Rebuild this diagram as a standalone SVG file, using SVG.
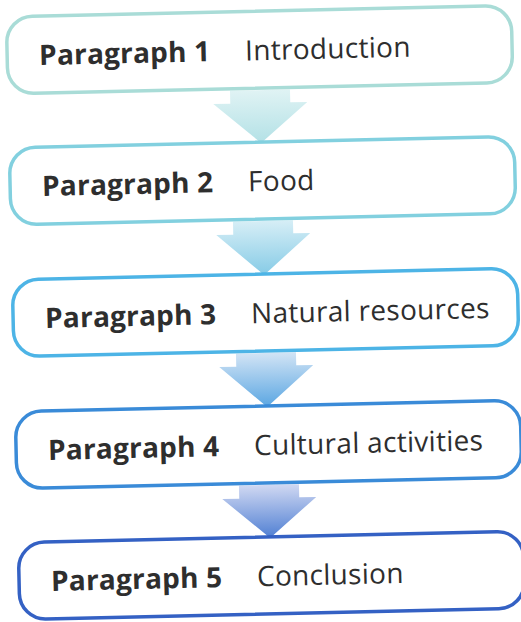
<svg xmlns="http://www.w3.org/2000/svg" width="521" height="622" viewBox="0 0 521 622">
  <defs>
    <linearGradient id="g1" x1="0" y1="0" x2="0" y2="1">
      <stop offset="0" stop-color="#e0f3f4"/>
      <stop offset="1" stop-color="#b3e1e6"/>
    </linearGradient>
    <linearGradient id="g2" x1="0" y1="0" x2="0" y2="1">
      <stop offset="0" stop-color="#d6eef6"/>
      <stop offset="1" stop-color="#86cbe6"/>
    </linearGradient>
    <linearGradient id="g3" x1="0" y1="0" x2="0" y2="1">
      <stop offset="0" stop-color="#d2e4f5"/>
      <stop offset="1" stop-color="#5aa6e2"/>
    </linearGradient>
    <linearGradient id="g4" x1="0" y1="0" x2="0" y2="1">
      <stop offset="0" stop-color="#d0d8f2"/>
      <stop offset="1" stop-color="#4f7fd3"/>
    </linearGradient>
    <style>
      .box { fill: #ffffff; stroke-width: 3.5; }
      .lab { font-family: "Open Sans", "Noto Sans", sans-serif; font-size: 28px; fill: #2e2e2e; letter-spacing: 0.3px; }
      .b { font-weight: 700; letter-spacing: 0.2px; }
    </style>
  </defs>
  <rect width="521" height="622" fill="#ffffff"/>
  <g transform="rotate(-1.3 265 311)">
    <g id="connectors">
      <path d="M235 90 H295 V103 H312 L265 143 L218 103 H235 Z" fill="url(#g1)"/>
      <path d="M235 221 H295 V234 H312 L265 275 L218 234 H235 Z" fill="url(#g2)"/>
      <path d="M235 353 H295 V366 H312 L265 407 L218 366 H235 Z" fill="url(#g3)"/>
      <path d="M235 485 H295 V498 H312 L265 538 L218 498 H235 Z" fill="url(#g4)"/>
    </g>
    <g id="p1">
      <rect class="box" x="13" y="11" width="505" height="77" rx="26" stroke="#a9dcd7"/>
      <text class="lab b" x="45" y="60">Paragraph 1</text>
      <text class="lab" x="251" y="60">Introduction</text>
    </g>
    <g id="p2">
      <rect class="box" x="13" y="142" width="505" height="77" rx="26" stroke="#82d0df"/>
      <text class="lab b" x="45" y="191">Paragraph 2</text>
      <text class="lab" x="251" y="191">Food</text>
    </g>
    <g id="p3">
      <rect class="box" x="13" y="274" width="505" height="77" rx="26" stroke="#4db4e6"/>
      <text class="lab b" x="45" y="323">Paragraph 3</text>
      <text class="lab" x="251" y="323">Natural resources</text>
    </g>
    <g id="p4">
      <rect class="box" x="13" y="406" width="505" height="77" rx="26" stroke="#3a8bd8"/>
      <text class="lab b" x="45" y="455">Paragraph 4</text>
      <text class="lab" x="251" y="455">Cultural activities</text>
    </g>
    <g id="p5">
      <rect class="box" x="13" y="537" width="505" height="77" rx="26" stroke="#3461c4"/>
      <text class="lab b" x="45" y="586">Paragraph 5</text>
      <text class="lab" x="251" y="586">Conclusion</text>
    </g>
  </g>
</svg>
